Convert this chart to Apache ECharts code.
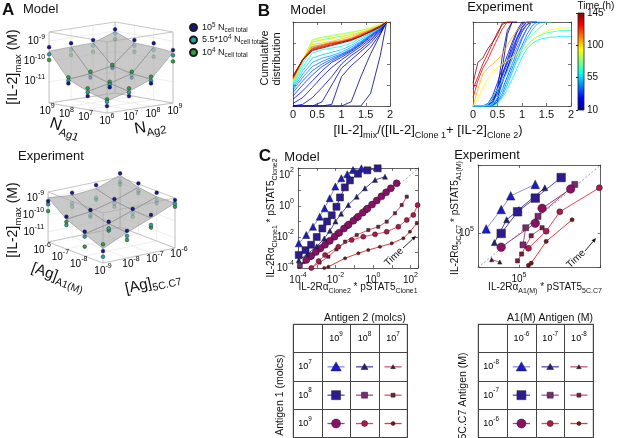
<!DOCTYPE html>
<html>
<head>
<meta charset="utf-8">
<title>IL-2 competition</title>
<script src="https://cdn.jsdelivr.net/npm/echarts@6.0.0/dist/echarts.min.js"></script>
<style>
  html, body { margin: 0; padding: 0; background: #fff; }
  #chart { width: 617px; height: 438px; }
</style>
</head>
<body>
<div id="chart"></div>
<script>
// ---------- A: peak IL-2, log10(M); rows = antigen 1 level (low->high), cols = antigen 2 level ----------
const modelAg1Exp = ['6', '7', '8', '9'];
const modelAg2Exp = ['6', '7', '8', '9'];
const modelZTicks = [-11, -10, -9];
const modelHigh = [   // 10^5 cells
  [-11.71, -11.38, -10.92, -9.44],
  [-11.38, -11.11, -10.80, -9.27],
  [-10.92, -10.80, -10.50, -9.28],
  [-9.30, -9.27, -9.28, -8.91]
];
const modelMid = [    // 5.5*10^4 cells
  [-11.50, -11.20, -10.78, -9.70],
  [-11.20, -10.97, -10.66, -9.60],
  [-10.78, -10.66, -10.44, -9.55],
  [-9.65, -9.60, -9.55, -9.11]
];
const modelLow = [    // 10^4 cells
  [-11.38, -11.00, -10.59, -10.00],
  [-11.00, -10.84, -10.51, -9.93],
  [-10.62, -10.51, -10.34, -9.85],
  [-9.93, -9.85, -9.85, -9.40]
];
const modelSurface = [
  [-11.45, -11.15, -10.72, -9.55],
  [-11.15, -10.92, -10.60, -9.45],
  [-10.72, -10.60, -10.38, -9.42],
  [-9.50, -9.45, -9.42, -9.02]
];

const exptAg1Exp = ['-9', '-8', '-7', '-6'];
const exptAg2Exp = ['-9', '-8', '-7', '-6'];
const exptZTicks = [-11, -10, -9];
const exptHigh = [
  [-10.90, -10.00, -9.36, -8.78],
  [-10.17, -9.88, -9.42, -8.76],
  [-9.70, -9.60, -9.25, -8.62],
  [-9.19, -9.00, -8.84, -8.44]
];
const exptMid = [
  [-11.23, -10.30, -9.95, -9.00],
  [-10.46, -10.27, -9.68, -9.19],
  [-10.19, -9.90, -9.50, -9.05],
  [-9.38, -9.62, -9.58, -8.93]
];
const exptLow = [
  [-10.50, -10.54, -10.10, -9.17],
  [-11.05, -10.40, -9.88, -9.38],
  [-10.00, -10.00, -9.70, -9.20],
  [-9.78, -9.82, -9.70, -9.10]
];
const exptSurface = [
  [-10.75, -10.10, -9.55, -8.95],
  [-10.30, -10.00, -9.50, -9.00],
  [-9.85, -9.70, -9.35, -8.85],
  [-9.00, -9.15, -9.05, -8.55]
];

// ---------- B: cumulative distributions, coloured by time (h) ----------
const timeTicks = [10, 55, 100, 145];
const cdfModelX = [0, 0.2, 0.4, 0.6, 0.8, 1.0, 1.2, 1.4, 1.6, 1.8, 1.93];
const cdfModelTimes = [10, 12, 14, 17, 20, 24, 28, 33, 38, 43, 48, 54, 60, 66, 72, 80, 88, 96, 104, 112, 120, 128, 136, 145];
const cdfModelY = [
  [0, 0, 0, 0, 0, 0, 0, 0, 0.15, 0.6, 1.0],
  [0, 0, 0, 0, 0, 0, 0.05, 0.35, 0.62, 0.85, 1.0],
  [0, 0, 0, 0, 0.02, 0.35, 0.48, 0.58, 0.7, 0.86, 1.0],
  [0, 0, 0, 0.05, 0.25, 0.45, 0.55, 0.65, 0.75, 0.88, 1.0],
  [0, 0.02, 0.1, 0.22, 0.35, 0.5, 0.6, 0.68, 0.78, 0.89, 1.0],
  [0.03, 0.1, 0.22, 0.35, 0.46, 0.55, 0.63, 0.71, 0.8, 0.9, 1.0],
  [0.08, 0.18, 0.3, 0.42, 0.52, 0.58, 0.65, 0.73, 0.82, 0.91, 1.0],
  [0.12, 0.25, 0.37, 0.47, 0.54, 0.6, 0.66, 0.74, 0.83, 0.92, 1.0],
  [0.16, 0.3, 0.42, 0.5, 0.56, 0.61, 0.67, 0.75, 0.84, 0.92, 1.0],
  [0.19, 0.34, 0.47, 0.53, 0.58, 0.62, 0.68, 0.76, 0.84, 0.93, 1.0],
  [0.21, 0.38, 0.52, 0.57, 0.6, 0.64, 0.7, 0.77, 0.85, 0.93, 1.0],
  [0.23, 0.42, 0.57, 0.61, 0.64, 0.67, 0.72, 0.79, 0.86, 0.93, 1.0],
  [0.25, 0.46, 0.63, 0.67, 0.69, 0.71, 0.75, 0.81, 0.87, 0.94, 1.0],
  [0.26, 0.5, 0.7, 0.73, 0.75, 0.77, 0.8, 0.84, 0.89, 0.95, 1.0],
  [0.27, 0.53, 0.76, 0.79, 0.81, 0.83, 0.85, 0.88, 0.91, 0.96, 1.0],
  [0.28, 0.54, 0.79, 0.82, 0.84, 0.86, 0.88, 0.9, 0.93, 0.97, 1.0],
  [0.29, 0.55, 0.78, 0.81, 0.83, 0.85, 0.87, 0.9, 0.93, 0.97, 1.0],
  [0.3, 0.55, 0.76, 0.78, 0.8, 0.82, 0.85, 0.88, 0.92, 0.96, 1.0],
  [0.31, 0.55, 0.73, 0.75, 0.77, 0.8, 0.83, 0.87, 0.91, 0.96, 1.0],
  [0.32, 0.55, 0.71, 0.73, 0.76, 0.78, 0.81, 0.86, 0.9, 0.95, 1.0],
  [0.33, 0.55, 0.69, 0.72, 0.75, 0.77, 0.8, 0.85, 0.9, 0.95, 1.0],
  [0.34, 0.55, 0.68, 0.71, 0.74, 0.76, 0.79, 0.84, 0.89, 0.95, 1.0],
  [0.35, 0.55, 0.67, 0.7, 0.73, 0.76, 0.79, 0.83, 0.89, 0.95, 1.0],
  [0.36, 0.55, 0.66, 0.69, 0.72, 0.75, 0.78, 0.83, 0.88, 0.94, 1.0]
];
const cdfExptX = [0, 0.1, 0.2, 0.3, 0.4, 0.5, 0.6, 0.7, 0.8, 0.9, 1.0, 1.1, 1.2, 1.3, 1.4, 1.5, 1.6, 1.7, 1.8, 1.9, 2.0];
const cdfExptTimes = [10, 12, 15, 18, 20, 24, 28, 32, 36, 40, 45, 50, 58, 64, 72, 95, 105, 128, 138, 145];
const cdfExptY = [
  [0, 0, 0, 0, 0, 0.05, 0.45, 0.85, 1, 1],
  [0, 0, 0, 0, 0.02, 0.2, 0.6, 0.9, 1, 1],
  [0, 0, 0, 0, 0.05, 0.2, 0.38, 0.55, 0.72, 0.88, 0.97, 1, 1],
  [0, 0, 0, 0, 0, 0.1, 0.28, 0.45, 0.62, 0.8, 0.93, 1, 1],
  [0, 0, 0, 0.02, 0.12, 0.28, 0.45, 0.6, 0.76, 0.9, 1, 1],
  [0, 0, 0, 0, 0.05, 0.15, 0.3, 0.45, 0.6, 0.75, 0.88, 0.97, 1, 1],
  [0, 0, 0, 0, 0.08, 0.22, 0.38, 0.52, 0.68, 0.82, 0.94, 1, 1],
  [0, 0, 0, 0, 0, 0.08, 0.2, 0.35, 0.5, 0.65, 0.8, 0.92, 1, 1],
  [0, 0, 0, 0.03, 0.1, 0.2, 0.35, 0.5, 0.66, 0.8, 0.9, 0.97, 1, 1],
  [0, 0, 0, 0, 0, 0.05, 0.15, 0.3, 0.45, 0.6, 0.72, 0.85, 0.95, 1, 1],
  [0, 0, 0, 0, 0.04, 0.14, 0.28, 0.42, 0.56, 0.7, 0.82, 0.92, 1, 1],
  [0, 0, 0, 0, 0, 0.04, 0.12, 0.25, 0.4, 0.55, 0.68, 0.8, 0.9, 0.97, 1, 1],
  [0, 0, 0, 0, 0, 0.03, 0.1, 0.2, 0.32, 0.45, 0.58, 0.68, 0.74, 0.78, 0.8, 0.81, 0.82, 0.82, 0.83, 0.83, 0.83],
  [0, 0, 0, 0, 0.02, 0.1, 0.2, 0.3, 0.42, 0.54, 0.64, 0.72, 0.78, 0.82, 0.85, 0.87, 0.88, 0.89, 0.9, 0.9, 0.9],
  [0, 0, 0, 0.02, 0.1, 0.2, 0.3, 0.4, 0.5, 0.6, 0.7, 0.78, 0.85, 0.9, 0.95, 1, 1],
  [0, 0.08, 0.22, 0.32, 0.4, 0.46, 0.5, 0.54, 0.58, 0.62, 0.66, 0.72, 0.78, 0.82, 0.86, 0.89, 0.91, 0.92, 0.93, 0.93, 0.93],
  [0, 0.2, 0.38, 0.45, 0.5, 0.55, 0.62, 0.72, 0.82, 0.9, 0.96, 1, 1],
  [0.1, 0.3, 0.45, 0.55, 0.68, 0.8, 0.92, 1, 1],
  [0.2, 0.35, 0.5, 0.62, 0.75, 0.88, 0.97, 1, 1],
  [0.27, 0.52, 0.57, 0.68, 0.76, 0.85, 0.99, 1, 1]
];

// ---------- C model: [log10 x, log10 y]; name = antigen1_antigen2 exponent (molcs) ----------
const cModel_7_9 = [[-3.96, -2.41], [-3.56, -1.87], [-3.2, -1.34], [-2.84, -0.69], [-2.58, -0.15], [-2.31, 0.5], [-2.01, 1.25], [-1.69, 1.79], [-1.37, 2.05], [-1.07, 2.32], [-0.62, 2.43]];
const cModel_7_8 = [[-3.96, -3.5], [-3.5, -3.1], [-3.0, -2.6], [-2.6, -2.1], [-2.3, -1.6], [-2.0, -1.0], [-1.7, -0.5], [-1.32, 0.06], [-0.87, 0.6], [-0.43, 1.14], [0.11, 1.68], [0.64, 1.89]];
const cModel_7_7 = [[-3.95, -3.9], [-3.7, -3.62], [-3.45, -3.36], [-3.2, -3.1]];
const cModel_8_9 = [[-3.96, -3.16], [-3.6, -2.85], [-3.3, -2.5], [-3.0, -2.0], [-2.7, -1.45], [-2.45, -1.0], [-2.2, -0.6], [-1.95, -0.05], [-1.76, 0.55], [-1.5, 1.2], [-1.23, 1.65], [-0.8, 2.08], [-0.3, 2.3], [0.25, 2.43]];
const cModel_8_8 = [[-3.9, -3.82], [-3.4, -3.3], [-2.9, -2.8], [-2.4, -2.3], [-1.9, -1.8], [-1.4, -1.3], [-0.9, -0.8], [-0.4, -0.28]];
const cModel_8_7 = [[-3.3, -4.0], [-2.85, -3.65], [-2.38, -3.27], [-1.95, -2.8], [-1.49, -2.3], [-0.87, -1.87], [-0.25, -1.55], [0.28, -1.34], [0.73, -1.01], [1.17, -0.47], [1.53, 0.06], [1.8, 0.6]];
const cModel_9_9 = [[-3.56, -3.48], [-3.3, -3.22], [-3.05, -2.97], [-2.8, -2.72], [-2.56, -2.5], [-2.3, -2.24], [-2.05, -1.98], [-1.8, -1.72], [-1.55, -1.46], [-1.3, -1.2], [-1.05, -0.95], [-0.8, -0.69], [-0.55, -0.43], [-0.3, -0.17], [-0.05, 0.09], [0.2, 0.35], [0.45, 0.62], [0.7, 0.88], [0.95, 1.14], [1.26, 1.46]];
const cModel_9_8 = [[-3.29, -4.0], [-2.9, -3.55], [-2.56, -3.16], [-1.85, -2.63], [-1.14, -2.19], [-0.52, -1.98], [0.11, -1.83], [0.73, -1.66], [1.35, -1.34], [1.8, -0.9], [2.15, -0.58], [2.38, 0.06]];
const cModel_9_7 = [[-2.6, -4.0], [-2.38, -3.92], [-1.49, -3.37], [-0.78, -3.05], [-0.25, -2.84], [0.37, -2.63], [1.0, -2.41], [1.62, -2.08], [1.97, -1.66], [2.33, -1.12]];

// ---------- C experiment: [log10 x, log10 y]; name = 5C.C7_A1(M) exponent (M) ----------
const cExpt_8_6 = [[4.76, 5.04], [4.87, 5.21], [4.94, 5.33], [5.12, 5.43]];
const cExpt_8_7 = [[4.82, 4.92], [4.91, 5.12], [5.0, 5.21], [5.19, 5.4]];
const cExpt_8_8 = [[4.8, 4.77], [4.86, 4.75]];
const cExpt_7_6 = [[4.87, 5.0], [4.99, 5.19], [5.12, 5.31], [5.31, 5.49]];
const cExpt_7_7 = [[5.03, 4.9], [5.05, 5.05], [5.14, 5.15], [5.41, 5.43]];
const cExpt_7_8 = [[4.99, 4.76], [5.02, 4.82], [5.09, 4.98], [5.17, 5.05]];
const cExpt_6_6 = [[4.87, 4.88], [5.12, 5.09], [5.17, 5.22], [5.38, 5.39]];
const cExpt_6_7 = [[5.07, 4.87], [5.2, 5.02], [5.3, 5.19], [5.59, 5.4]];
const cExpt_6_8 = [[5.07, 4.72], [5.09, 4.74], [5.2, 4.93], [5.39, 5.12]];

// table headers (exponents)
const tModelCols = ['9', '8', '7'];
const tModelRows = ['7', '8', '9'];
const tExptCols = ['-6', '-7', '-8'];
const tExptRows = ['-8', '-7', '-6'];

// ---------- styles ----------
const FONT = '"Liberation Sans", Arial, Helvetica, sans-serif';
const INK = '#111';
const COL_HI = '#16168f', COL_MID = '#26a0a0', COL_LO = '#2f9e45';
const comboSymbol = ['triangle', 'rect', 'circle'];           // by row
const comboFill = [['#1a1ad0', '#20207a', '#3c1c48'], ['#2c1c90', '#7a2a74', '#7a1c40'], ['#8a1066', '#b0184a', '#7a1418']];
const comboLine = [['#8c8ce6', '#5646a8', '#c45a82'], ['#5e48b6', '#a65290', '#d45464'], ['#a0408a', '#e2465a', '#e23a3a']];
const modelSize = [7, 5, 3.2], exptSize = [8.5, 6, 4.2], tableSize = [9, 6, 4];

function richSet(size, lh) {
  const s = Math.round(size * 0.7 * 10) / 10;
  const h = lh || size + 6;
  return {
    n: {fontFamily: FONT, color: INK, fontSize: size, lineHeight: h, verticalAlign: 'middle'},
    p: {fontFamily: FONT, color: INK, fontSize: s, lineHeight: s + 1, verticalAlign: 'top'},
    d: {fontFamily: FONT, color: INK, fontSize: s, lineHeight: s + 1, verticalAlign: 'bottom'}
  };
}
const pow10 = e => '{n|10}{p|' + e + '}';

function jet(f) {
  const c = v => Math.round(255 * Math.max(0, Math.min(1, v)));
  return 'rgb(' + c(1.5 - Math.abs(4 * f - 3)) + ',' + c(1.5 - Math.abs(4 * f - 2)) + ',' + c(1.5 - Math.abs(4 * f - 1)) + ')';
}
const timeColor = t => jet((t - 10) / 135);

const grids = [], xAxes = [], yAxes = [], series = [];

// ---------- 3D panels (projected onto a hidden cartesian grid) ----------
function build3D(cfg) {
  const P = (i, j, z) => [i * cfg.iStep[0] + j * cfg.jStep[0], -(i * cfg.iStep[1] + j * cfg.jStep[1]) + (z - cfg.zMin) * cfg.zPx];
  const g = grids.push(Object.assign({show: false, outerBoundsMode: 'none'}, cfg.grid)) - 1;
  const xi = xAxes.push({gridIndex: g, type: 'value', min: cfg.u[0], max: cfg.u[1], show: false}) - 1;
  const yi = yAxes.push({gridIndex: g, type: 'value', min: cfg.v[0], max: cfg.v[1], show: false}) - 1;
  const common = {type: 'custom', coordinateSystem: 'cartesian2d', xAxisIndex: xi, yAxisIndex: yi, clip: false, silent: true, encode: {x: 0, y: 1}};
  const lo = cfg.zMin, hi = cfg.zMax, S = cfg.surface;

  const segs = [];
  const seg = (a, b, k) => segs.push([a[0], a[1], b[0], b[1], k]);
  for (let k = 0; k < 4; k++) {
    seg(P(k, 0, lo), P(k, 3, lo), 0);
    seg(P(0, k, lo), P(3, k, lo), 0);
    seg(P(3, k, lo), P(3, k, hi), 0);
    seg(P(k, 3, lo), P(k, 3, hi), 0);
  }
  cfg.zTicks.forEach(z => { seg(P(3, 0, z), P(3, 3, z), 0); seg(P(0, 3, z), P(3, 3, z), 0); });
  [lo, hi].forEach(z => {
    seg(P(0, 0, z), P(3, 0, z), 1); seg(P(0, 0, z), P(0, 3, z), 1);
    seg(P(3, 0, z), P(3, 3, z), 1); seg(P(0, 3, z), P(3, 3, z), 1);
  });
  [[0, 0], [3, 0], [0, 3], [3, 3]].forEach(([i, j]) => seg(P(i, j, lo), P(i, j, hi), 1));
  series.push(Object.assign({}, common, {z: 1, data: segs, renderItem: (p, api) => {
    const a = api.coord([api.value(0), api.value(1)]), b = api.coord([api.value(2), api.value(3)]);
    const edge = api.value(4) === 1;
    return {type: 'line', shape: {x1: a[0], y1: a[1], x2: b[0], y2: b[1]},
      style: {stroke: edge ? '#b8b8b8' : '#e3e3e3', lineWidth: edge ? 0.8 : 0.6}};
  }}));

  const cells = [];
  for (let i = 0; i < 3; i++) for (let j = 0; j < 3; j++) cells.push([i, j]);
  cells.sort((a, b) => (b[0] + b[1]) - (a[0] + a[1]));
  const quads = cells.map(([i, j]) => [].concat(P(i, j, S[i][j]), P(i + 1, j, S[i + 1][j]), P(i + 1, j + 1, S[i + 1][j + 1]), P(i, j + 1, S[i][j + 1])));
  series.push(Object.assign({}, common, {z: 2, data: quads, renderItem: (p, api) => {
    const pts = [0, 1, 2, 3].map(k => api.coord([api.value(2 * k), api.value(2 * k + 1)]));
    return {type: 'polygon', shape: {points: pts}, style: {fill: 'rgba(168,168,168,0.62)', stroke: '#8e8e8e', lineWidth: 0.6}};
  }}));

  cfg.sets.forEach(set => {
    const data = [];
    set.vals.forEach((row, i) => row.forEach((z, j) => {
      const hidden = z < S[i][j] && i > 0 && j > 0 && i + j >= 3;
      const q = P(i, j, z);
      data.push([q[0], q[1], hidden ? 1 : 0]);
    }));
    series.push(Object.assign({}, common, {name: set.name, z: 3, data,
      itemStyle: {color: set.color, borderColor: '#1b1b1b', borderWidth: 0.5},
      renderItem: (p, api) => {
        const c = api.coord([api.value(0), api.value(1)]);
        return {type: 'circle', shape: {cx: c[0], cy: c[1], r: 1.9},
          style: {fill: set.color, stroke: '#1b1b1b', lineWidth: 0.4, opacity: api.value(2) === 1 ? 0.3 : 1}};
      }}));
  });

  const specs = [];
  cfg.zTicks.forEach(z => specs.push({at: P(3, 0, z), dx: -4, dy: 0, align: 'right', text: pow10(z)}));
  cfg.ag1Exp.forEach((e, k) => specs.push({at: P(k, 0, lo), dx: k === 0 ? 0 : cfg.iOff[0], dy: cfg.iOff[1], align: 'center', text: pow10(e)}));
  cfg.ag2Exp.forEach((e, k) => {
    if (k === 0 && e === cfg.ag1Exp[0]) return;   // shared front-corner label
    specs.push({at: P(0, k, lo), dx: cfg.jOff[0], dy: cfg.jOff[1], align: 'center', text: pow10(e)});
  });
  series.push(Object.assign({}, common, {z: 4, data: specs.map(s => s.at), renderItem: (p, api) => {
    const s = specs[p.dataIndex];
    const c = api.coord([api.value(0), api.value(1)]);
    return {type: 'text', x: c[0] + s.dx, y: c[1] + s.dy, style: {text: s.text, rich: richSet(10), align: s.align, verticalAlign: 'middle'}};
  }}));
}

build3D({
  grid: {left: 45, top: 23, width: 132, height: 104}, u: [-62, 70], v: [-14, 90],
  iStep: [-19.3, -3.33], jStep: [22, -3.33], zPx: 20.3, zMin: -12.05, zMax: -8.55,
  zTicks: modelZTicks, ag1Exp: modelAg1Exp, ag2Exp: modelAg2Exp, iOff: [-2, 8], jOff: [2, 8],
  surface: modelSurface,
  sets: [{name: 'lo', color: COL_LO, vals: modelLow}, {name: 'mid', color: COL_MID, vals: modelMid}, {name: 'hi', color: COL_HI, vals: modelHigh}]
});
build3D({
  grid: {left: 43, top: 163, width: 136, height: 116}, u: [-60, 76], v: [-16, 100],
  iStep: [-18.3, -7], jStep: [24, -5], zPx: 17, zMin: -11.6, zMax: -8.66,
  zTicks: exptZTicks, ag1Exp: exptAg1Exp, ag2Exp: exptAg2Exp, iOff: [-6, 8], jOff: [4, 6],
  surface: exptSurface,
  sets: [{name: 'lo', color: COL_LO, vals: exptLow}, {name: 'mid', color: COL_MID, vals: exptMid}, {name: 'hi', color: COL_HI, vals: exptHigh}]
});

// ---------- boxed 2D axes ----------
function boxed(box, xBase, yBase, xLab, yLab) {
  const g = grids.push(Object.assign({show: false, outerBoundsMode: 'none'}, box)) - 1;
  const line = {show: true, onZero: false, lineStyle: {color: '#3a3a3a', width: 0.8}};
  const tick = {show: true, inside: true, length: 3, lineStyle: {color: '#3a3a3a', width: 0.7}};
  const mk = (pos, base, lab) => Object.assign({gridIndex: g, position: pos, axisLine: line, axisTick: tick, splitLine: {show: false}, axisLabel: lab || {show: false}}, base);
  const xi = xAxes.push(mk('bottom', xBase, xLab)) - 1;
  xAxes.push(mk('top', xBase));
  const yi = yAxes.push(mk('left', yBase, yLab)) - 1;
  yAxes.push(mk('right', yBase));
  return [xi, yi];
}
const linLab = {show: true, fontSize: 11, color: INK, fontFamily: FONT, margin: 3};
const logLab = every => ({show: true, margin: 4, rich: richSet(10), formatter: v => {
  const e = Math.log10(v), r = Math.round(e);
  if (Math.abs(e - r) > 1e-6 || r % every !== 0) return '';
  return pow10(r);
}});

// B panels
const [bmx, bmy] = boxed({left: 293, top: 22, width: 97, height: 84},
  {type: 'value', min: 0, max: 2, interval: 0.5}, {type: 'value', min: 0, max: 1, interval: 0.25}, linLab);
const [bex, bey] = boxed({left: 473, top: 22, width: 98, height: 84},
  {type: 'value', min: 0, max: 2, interval: 0.5}, {type: 'value', min: 0, max: 1, interval: 0.25}, linLab);
cdfModelY.forEach((ys, k) => series.push({type: 'line', xAxisIndex: bmx, yAxisIndex: bmy, silent: true, symbol: 'none', z: 2,
  data: ys.map((y, n) => [cdfModelX[n], y]), lineStyle: {width: 0.8, color: timeColor(cdfModelTimes[k])}}));
cdfExptY.forEach((ys, k) => series.push({type: 'line', xAxisIndex: bex, yAxisIndex: bey, silent: true, symbol: 'none', z: 2,
  data: ys.map((y, n) => [cdfExptX[n], y]), lineStyle: {width: 0.8, color: timeColor(cdfExptTimes[k])}}));

// colour bar
const gCB = grids.push({left: 578, top: 13, width: 6, height: 97, show: false, outerBoundsMode: 'none'}) - 1;
const cbx = xAxes.push({gridIndex: gCB, type: 'value', min: 0, max: 1, show: false}) - 1;
const cby = yAxes.push({gridIndex: gCB, type: 'value', min: 10, max: 145, position: 'right',
  axisLine: {show: false}, splitLine: {show: false},
  axisTick: {show: true, inside: true, length: 2, customValues: timeTicks, lineStyle: {color: '#222'}},
  axisLabel: {show: true, customValues: timeTicks, fontSize: 10, margin: 3, color: INK, fontFamily: FONT}}) - 1;
series.push({type: 'custom', xAxisIndex: cbx, yAxisIndex: cby, silent: true, clip: false, encode: {x: 0, y: 1},
  data: [[0, timeTicks[0], 1, timeTicks[timeTicks.length - 1]]],
  renderItem: (p, api) => {
    const a = api.coord([api.value(0), api.value(3)]), b = api.coord([api.value(2), api.value(1)]);
    const stops = [];
    for (let k = 0; k <= 8; k++) stops.push({offset: k / 8, color: jet(1 - k / 8)});
    return {type: 'rect', shape: {x: a[0], y: a[1], width: b[0] - a[0], height: b[1] - a[1]},
      style: {fill: new echarts.graphic.LinearGradient(0, 0, 0, 1, stops), stroke: '#222', lineWidth: 0.8}};
  }});

// C panels
const cModelX = [-4, 2.4], cModelY = [-4, 2.45], cExptX = [4.7, 5.6], cExptY = [4.7, 5.6];
const [cmx, cmy] = boxed({left: 298, top: 168, width: 120, height: 100},
  {type: 'log', logBase: 10, min: Math.pow(10, cModelX[0]), max: Math.pow(10, cModelX[1])},
  {type: 'log', logBase: 10, min: Math.pow(10, cModelY[0]), max: Math.pow(10, cModelY[1])}, logLab(2), logLab(2));
const [cex, cey] = boxed({left: 478, top: 165, width: 122.7, height: 102.7},
  {type: 'log', logBase: 10, min: Math.pow(10, cExptX[0]), max: Math.pow(10, cExptX[1])},
  {type: 'log', logBase: 10, min: Math.pow(10, cExptY[0]), max: Math.pow(10, cExptY[1])}, logLab(1), logLab(1));

function diag(xi, yi, lo, hi) {
  series.push({type: 'line', xAxisIndex: xi, yAxisIndex: yi, silent: true, symbol: 'none', z: 1,
    data: [[Math.pow(10, lo), Math.pow(10, lo)], [Math.pow(10, hi), Math.pow(10, hi)]],
    lineStyle: {color: '#8a8a8a', width: 0.8, type: [2, 2]}});
}
diag(cmx, cmy, cModelX[0], cModelX[1]);
diag(cex, cey, cExptX[0], cExptX[1]);

function traj(xi, yi, pts, r, c, sizes) {
  series.push({type: 'line', xAxisIndex: xi, yAxisIndex: yi, silent: true, z: 3, clip: true,
    data: pts.map(([a, b]) => [Math.pow(10, a), Math.pow(10, b)]),
    symbol: comboSymbol[r], symbolSize: sizes[c], showSymbol: true,
    itemStyle: {color: comboFill[r][c], borderColor: '#1c1c1c', borderWidth: 0.5},
    lineStyle: {color: comboLine[r][c], width: 1}});
}
const modelSets = [[cModel_7_9, cModel_7_8, cModel_7_7], [cModel_8_9, cModel_8_8, cModel_8_7], [cModel_9_9, cModel_9_8, cModel_9_7]];
const exptSets = [[cExpt_8_6, cExpt_8_7, cExpt_8_8], [cExpt_7_6, cExpt_7_7, cExpt_7_8], [cExpt_6_6, cExpt_6_7, cExpt_6_8]];
const drawOrder = [[0, 2], [1, 1], [2, 0], [0, 0], [0, 1], [1, 0], [1, 2], [2, 1], [2, 2]];
drawOrder.forEach(([r, c]) => traj(cmx, cmy, modelSets[r][c], r, c, modelSize));
drawOrder.forEach(([r, c]) => traj(cex, cey, exptSets[r][c], r, c, exptSize));

// ---------- legend tables ----------
function markerShape(sym, x, y, s, fill) {
  const style = {fill, stroke: '#1c1c1c', lineWidth: 0.5};
  if (sym === 'triangle') return {type: 'polygon', shape: {points: [[x, y - s * 0.55], [x + s * 0.58, y + s * 0.45], [x - s * 0.58, y + s * 0.45]]}, style};
  if (sym === 'rect') return {type: 'rect', shape: {x: x - s / 2, y: y - s / 2, width: s, height: s}, style};
  return {type: 'circle', shape: {cx: x, cy: y, r: s / 2}, style};
}
function buildTable(box, colExp, rowExp) {
  const g = grids.push(Object.assign({show: true, borderColor: '#444', borderWidth: 1, backgroundColor: 'transparent', outerBoundsMode: 'none'}, box)) - 1;
  const cats = ['h', '1', '2', '3'];
  const sl = {show: true, lineStyle: {color: '#444', width: 1}};
  const ax = {type: 'category', data: cats, boundaryGap: true, axisLine: {show: false}, axisTick: {show: false}, axisLabel: {show: false}, splitLine: sl};
  const xi = xAxes.push(Object.assign({gridIndex: g}, ax)) - 1;
  const yi = yAxes.push(Object.assign({gridIndex: g, inverse: true}, ax)) - 1;
  const cells = [];
  for (let r = 0; r < 3; r++) for (let c = 0; c < 3; c++) cells.push([c + 1, r + 1, r, c]);
  series.push({type: 'custom', xAxisIndex: xi, yAxisIndex: yi, silent: true, z: 3, encode: {x: 0, y: 1}, data: cells,
    renderItem: (p, api) => {
      const pt = api.coord([api.value(0), api.value(1)]), sz = api.size([1, 1]);
      const r = api.value(2), c = api.value(3), half = sz[0] * 0.3;
      return {type: 'group', children: [
        {type: 'line', shape: {x1: pt[0] - half, y1: pt[1], x2: pt[0] + half, y2: pt[1]}, style: {stroke: comboLine[r][c], lineWidth: 1.3}},
        markerShape(comboSymbol[r], pt[0], pt[1], tableSize[c], comboFill[r][c])
      ]};
    }});
  const heads = [];
  colExp.forEach((e, k) => heads.push([k + 1, 0, 0, k]));
  rowExp.forEach((e, k) => heads.push([0, k + 1, 1, k]));
  series.push({type: 'custom', xAxisIndex: xi, yAxisIndex: yi, silent: true, z: 3, encode: {x: 0, y: 1}, data: heads,
    renderItem: (p, api) => {
      const pt = api.coord([api.value(0), api.value(1)]), sz = api.size([1, 1]);
      const isRow = api.value(2) === 1, k = api.value(3);
      return {type: 'text', x: isRow ? pt[0] - sz[0] / 2 + 5 : pt[0], y: pt[1],
        style: {text: pow10(isRow ? rowExp[k] : colExp[k]), rich: richSet(9), align: isRow ? 'left' : 'center', verticalAlign: 'middle'}};
    }});
}
buildTable({left: 293.3, top: 324.3, width: 114, height: 113.4}, tModelCols, tModelRows);
buildTable({left: 478.3, top: 324.3, width: 115, height: 113.4}, tExptCols, tExptRows);

// ---------- annotations ----------
function txt(x, y, text, o) {
  o = o || {};
  return {type: 'text', x, y, rotation: o.rot || 0, silent: true, z: 100,
    style: {text, align: o.align || 'center', verticalAlign: 'middle', fontFamily: FONT,
      fontSize: o.size || 12, fontWeight: o.weight || 'normal', fill: INK, rich: o.rich}};
}
function arrow(x1, y1, x2, y2) {
  const a = Math.atan2(y2 - y1, x2 - x1), L = 4.5, W = 2;
  const bx = x2 - L * Math.cos(a), by = y2 - L * Math.sin(a);
  return [
    {type: 'line', silent: true, z: 100, shape: {x1, y1, x2: bx, y2: by}, style: {stroke: INK, lineWidth: 0.9}},
    {type: 'polygon', silent: true, z: 100, shape: {points: [[x2, y2], [bx + W * Math.sin(a), by - W * Math.cos(a)], [bx - W * Math.sin(a), by + W * Math.cos(a)]]}, style: {fill: INK}}
  ];
}
const VERT = Math.PI / 2;
const graphics = [
  txt(2, 10, 'A', {size: 17, weight: 'bold', align: 'left'}),
  txt(23, 9, 'Model', {size: 13, align: 'left'}),
  txt(18, 156, 'Experiment', {size: 13, align: 'left'}),
  txt(13, 67, '{n|[IL-2]}{d|max}{n| (M)}', {rot: VERT, rich: richSet(14)}),
  txt(13, 220, '{n|[IL-2]}{d|max}{n| (M)}', {rot: VERT, rich: richSet(14)}),
  txt(65, 128, '{n|N}{d|Ag1}', {rot: -0.33, rich: richSet(16)}),
  txt(150, 127, '{n|N}{d|Ag2}', {rot: 0.16, rich: richSet(16)}),
  txt(58, 277, '{n|[Ag]}{d|A1(M)}', {rot: -0.35, rich: richSet(15)}),
  txt(153, 283, '{n|[Ag]}{d|5C.C7}', {rot: 0.22, rich: richSet(15)}),

  txt(264, 11, 'B', {size: 17, weight: 'bold'}),
  txt(308, 10, 'Model', {size: 13}),
  txt(500, 7, 'Experiment', {size: 13}),
  txt(265, 58, 'Cumulative', {rot: VERT, size: 11}),
  txt(277, 59, 'distribution', {rot: VERT, size: 11}),
  txt(428, 130, '{n|[IL-2]}{d|mix}{n|/([IL-2]}{d|Clone 1}{n|+ [IL-2]}{d|Clone 2}{n|)}', {rich: richSet(13)}),
  txt(596, 6, 'Time (h)', {size: 10}),

  txt(265, 156, 'C', {size: 17, weight: 'bold'}),
  txt(302, 157, 'Model', {size: 13}),
  txt(487, 155, 'Experiment', {size: 13}),
  txt(271, 218, '{n|IL-2Rα}{d|Clone1}{n| * pSTAT5}{d|Clone2}', {rot: VERT, rich: richSet(10)}),
  txt(358, 287, '{n|IL-2Rα}{d|Clone2}{n| * pSTAT5}{d|Clone1}', {rich: richSet(10)}),
  txt(455, 218, '{n|IL-2Rα}{d|5C.C7}{n| * pSTAT5}{d|A1(M)}', {rot: VERT, rich: richSet(10)}),
  txt(545, 287, '{n|IL-2Rα}{d|A1(M)}{n| * pSTAT5}{d|5C.C7}', {rich: richSet(10)}),
  txt(394, 257, 'Time', {size: 10, rot: 0.75}),
  txt(576, 259, 'Time', {size: 10, rot: 0.75}),

  txt(364.8, 318, 'Antigen 2 (molcs)', {size: 10.5}),
  txt(550, 318, 'A1(M) Antigen (M)', {size: 10.5}),
  txt(280, 395, 'Antigen 1 (molcs)', {size: 10.5, rot: VERT}),
  txt(463, 396, '5C.C7 Antigen (M)', {size: 10.5, rot: VERT})
].concat(arrow(403, 248, 416, 236), arrow(585, 251, 596, 238));

const legendText = {
  hi: '{n|10}{p|5}{n| N}{d|cell total}',
  mid: '{n|5.5*10}{p|4}{n| N}{d|cell total}',
  lo: '{n|10}{p|4}{n| N}{d|cell total}'
};

const chart = echarts.init(document.getElementById('chart'));
chart.setOption({
  animation: false,
  textStyle: {fontFamily: FONT},
  grid: grids,
  xAxis: xAxes,
  yAxis: yAxes,
  legend: {
    left: 184, top: 17, orient: 'vertical', icon: 'circle', itemWidth: 7, itemHeight: 7, itemGap: 1.5,
    selectedMode: false, data: ['hi', 'mid', 'lo'],
    formatter: name => legendText[name],
    textStyle: {fontSize: 9, color: INK, rich: richSet(9, 11)}
  },
  series,
  graphic: graphics
});
window.addEventListener('resize', () => chart.resize());
</script>
</body>
</html>
